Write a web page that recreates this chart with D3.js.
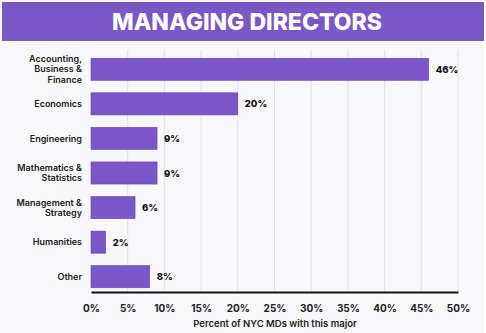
<!DOCTYPE html>
<html><head><meta charset="utf-8">
<script src="https://cdn.jsdelivr.net/npm/d3@7"></script>
<style>
html,body{margin:0;padding:0;background:#fff;}
svg{display:block;font-family:Inter, "Noto Sans", sans-serif;}
</style></head>
<body><svg id="c" width="486" height="333"></svg>
<script>
const title = "MANAGING DIRECTORS";
const categories = [["Accounting,","Business &","Finance"],["Economics"],["Engineering"],["Mathematics &","Statistics"],["Management &","Strategy"],["Humanities"],["Other"]];
const values = [46, 20, 9, 9, 6, 2, 8];
const tickValues = [0,5,10,15,20,25,30,35,40,45,50];
const axisTitle = "Percent of NYC MDs with this major";

const svg = d3.select("#c");
svg.append("rect").attr("x",0).attr("y",0).attr("width",484).attr("height",333).attr("fill","#f8f7fa");
svg.append("rect").attr("x",2).attr("y",2).attr("width",482).attr("height",39).attr("fill","#7a57c6");
svg.append("text").attr("x",247).attr("y",30).attr("text-anchor","middle")
  .attr("fill","#fff").attr("font-size",23).attr("font-weight",800).text(title);

const x = d3.scaleLinear().domain([0,50]).range([91,458]);
const y = d3.scaleBand().domain(d3.range(categories.length)).range([52,294]).paddingInner(0.36).paddingOuter(0.18);

const g = svg.append("g");
g.selectAll("line.grid").data(tickValues.slice(1)).join("line").attr("class","grid")
  .attr("x1",d=>x(d)).attr("x2",d=>x(d)).attr("y1",50).attr("y2",292)
  .attr("stroke","#e2e0e6").attr("stroke-width",1);

g.selectAll("rect.bar").data(values).join("rect").attr("class","bar")
  .attr("x",x(0)).attr("y",(d,i)=>y(i)).attr("width",d=>x(d)-x(0)).attr("height",y.bandwidth())
  .attr("fill","#7b56c8").attr("stroke","#6a45b8").attr("stroke-width",0.6);

g.selectAll("text.val").data(values).join("text").attr("class","val")
  .attr("x",d=>x(d)+7).attr("y",(d,i)=>y(i)+y.bandwidth()/2+3.5)
  .attr("font-size",9.5).attr("font-weight",800).attr("fill","#111").text(d=>d+"%");

categories.forEach((lines,i)=>{
  const cy = y(i)+y.bandwidth()/2;
  const lh = 10.5;
  const t = g.append("text").attr("text-anchor","end").attr("font-size",9).attr("font-weight",600).attr("fill","#222");
  lines.forEach((l,j)=>{
    t.append("tspan").attr("x",82).attr("y",cy+3.2+(j-(lines.length-1)/2)*lh).text(l);
  });
});

const axis = d3.axisBottom(x).tickValues(tickValues).tickFormat(d=>d+"%").tickSize(0).tickPadding(13);
const ag = svg.append("g").attr("transform","translate(0,292)").call(axis);
ag.select(".domain").attr("stroke","#111").attr("stroke-width",2);
ag.selectAll("text").attr("font-size",10).attr("font-weight",700).attr("fill","#222").attr("font-family","Inter, sans-serif");

svg.append("text").attr("x",275).attr("y",327).attr("text-anchor","middle")
  .attr("font-size",9.5).attr("font-weight",600).attr("fill","#222").text(axisTitle);
</script></body></html>
